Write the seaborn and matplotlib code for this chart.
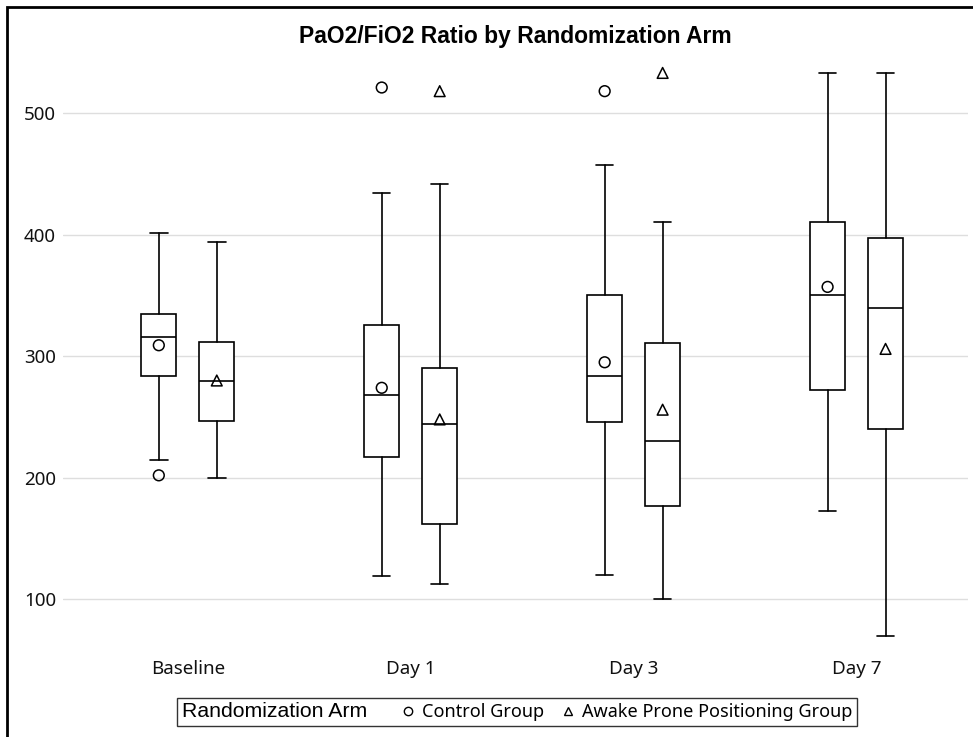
"""PaO2/FiO2 ratio by randomization arm: clustered box plots per visit."""

import matplotlib.pyplot as plt
import numpy as np
import pandas as pd
import seaborn as sns
from matplotlib.lines import Line2D
from matplotlib.offsetbox import HPacker
from matplotlib.patches import Rectangle

VISITS = ["Baseline", "Day 1", "Day 3", "Day 7"]
ARMS = ["Control Group", "Awake Prone Positioning Group"]

# summary statistics, one value per visit
CTRL_WHISLO = [215, 119, 120, 173]
CTRL_Q1 = [284, 217, 246, 272]
CTRL_MED = [316, 268, 284, 350]
CTRL_Q3 = [335, 326, 350, 410]
CTRL_WHISHI = [401, 434, 457, 533]
CTRL_MEAN = [309, 274, 295, 357]
CTRL_OUTLIERS = [[202], [521], [518], []]

APP_WHISLO = [200, 113, 100, 70]
APP_Q1 = [247, 162, 177, 240]
APP_MED = [280, 244, 230, 340]
APP_Q3 = [312, 290, 311, 397]
APP_WHISHI = [394, 442, 410, 533]
APP_MEAN = [280, 248, 256, 306]
APP_OUTLIERS = [[], [518], [533], []]

Y_TICKS = [100, 200, 300, 400, 500]

OFFSET = 0.13
BOX_WIDTH = 0.157


def box_stats(whislo, q1, med, q3, whishi, mean):
    return [
        {"whislo": a, "q1": b, "med": c, "q3": d, "whishi": e, "mean": m, "fliers": []}
        for a, b, c, d, e, m in zip(whislo, q1, med, q3, whishi, mean)
    ]


def point_table() -> pd.DataFrame:
    rows = []
    groups = [
        (ARMS[0], -OFFSET, CTRL_MEAN, CTRL_OUTLIERS),
        (ARMS[1], OFFSET, APP_MEAN, APP_OUTLIERS),
    ]
    for arm, shift, means, outliers in groups:
        for i, visit in enumerate(VISITS):
            rows.append({"x": i + shift, "value": means[i], "arm": arm})
            for v in outliers[i]:
                rows.append({"x": i + shift, "value": v, "arm": arm})
    return pd.DataFrame(rows)


sns.set_theme(style="whitegrid")
plt.rcParams["font.family"] = ["Noto Sans", "DejaVu Sans"]

fig = plt.figure(figsize=(9.73, 7.37), dpi=100)
ax = fig.add_axes([0.0647, 0.1208, 0.9302, 0.7951])
ax.set_facecolor("white")

line_kw = dict(color="black", linewidth=1.2)
pos = np.arange(len(VISITS))
for stats, shift in [
    (box_stats(CTRL_WHISLO, CTRL_Q1, CTRL_MED, CTRL_Q3, CTRL_WHISHI, CTRL_MEAN), -OFFSET),
    (box_stats(APP_WHISLO, APP_Q1, APP_MED, APP_Q3, APP_WHISHI, APP_MEAN), OFFSET),
]:
    ax.bxp(
        stats,
        positions=pos + shift,
        widths=BOX_WIDTH,
        capwidths=BOX_WIDTH / 2,
        showfliers=False,
        showmeans=False,
        patch_artist=True,
        boxprops=dict(facecolor="white", edgecolor="black", linewidth=1.2),
        medianprops=line_kw,
        whiskerprops=line_kw,
        capprops=line_kw,
        manage_ticks=False,
        zorder=3,
    )

points = point_table()
sns.scatterplot(
    data=points,
    x="x",
    y="value",
    style="arm",
    style_order=ARMS,
    markers={ARMS[0]: "o", ARMS[1]: "^"},
    s=60,
    facecolor="none",
    edgecolor="black",
    linewidth=1.1,
    legend=False,
    ax=ax,
    zorder=4,
)

ax.set_xlim(-0.56, 3.5)
ax.set_ylim(60, 542)
ax.set_xticks(pos)
ax.set_xticklabels(VISITS)
ax.set_yticks(Y_TICKS)
ax.set_xlabel("")
ax.set_ylabel("")
ax.grid(axis="x", visible=False)
ax.grid(axis="y", color="#dedede", linewidth=1)
for spine in ax.spines.values():
    spine.set_visible(False)
ax.tick_params(axis="both", length=0, labelsize=13.5, colors="#111111")
ax.tick_params(axis="y", pad=5)
ax.tick_params(axis="x", pad=9)

fig.text(
    0.5298, 0.951, "PaO2/FiO2 Ratio by Randomization Arm",
    ha="center", va="center", fontsize=16.5, fontweight="bold", color="black",
    family=["Liberation Sans", "DejaVu Sans"],
)

handles = [
    Line2D([], [], linestyle="none", marker="o", markersize=6,
           markerfacecolor="none", markeredgecolor="black", markeredgewidth=1),
    Line2D([], [], linestyle="none", marker="^", markersize=6,
           markerfacecolor="none", markeredgecolor="black", markeredgewidth=1),
]
leg = fig.legend(
    handles, ARMS,
    title="Randomization Arm",
    loc="center", bbox_to_anchor=(0.5314, 0.034),
    ncol=2, fontsize=13, frameon=True, fancybox=False,
    edgecolor="black", handlelength=0.8, handletextpad=0.4,
    columnspacing=0.9, borderpad=0.25,
)
leg.get_frame().set_linewidth(1)
for t in leg.get_texts():
    t.set_color("black")
title = leg.get_title()
title.set_fontsize(15.3)
title.set_color("black")
title.set_family(["Liberation Sans", "DejaVu Sans"])
# put the legend title to the left of the entries, as in SAS output
old_box = leg._legend_box
leg._legend_box = HPacker(
    pad=old_box.pad, sep=24, align="center",
    children=[leg._legend_title_box, leg._legend_handle_box],
)
leg._legend_box.set_figure(fig)
leg._legend_box.set_offset(leg._findoffset)

# outer border of the graph area (left and top edges visible)
fig.patches.append(Rectangle(
    (6.5 / 973, -0.1), 1.2, 1.1 - 7 / 737,
    transform=fig.transFigure, fill=False, edgecolor="black", linewidth=2,
))

fig.savefig("out.png", dpi=100)
